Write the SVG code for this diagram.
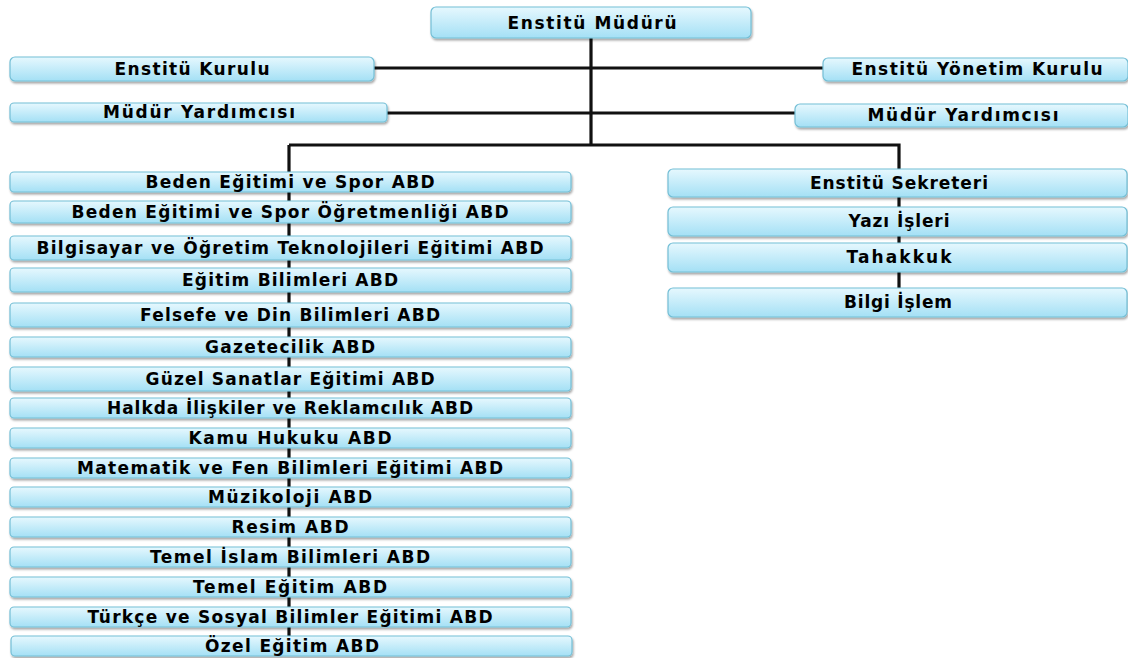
<svg xmlns="http://www.w3.org/2000/svg" width="1128" height="658" viewBox="0 0 1128 658">
<style>
.box{fill:url(#g);stroke:#74bfd6;stroke-width:1.2;filter:url(#sh)}
.t{font-family:"DejaVu Sans","Verdana",sans-serif;font-weight:bold;font-size:17px;fill:#000;text-anchor:middle}
.c{stroke:#111;stroke-width:3.2;fill:none}
</style>
<defs>
<linearGradient id="g" x1="0" y1="0" x2="0" y2="1">
<stop offset="0" stop-color="#e6f8fe"/>
<stop offset="1" stop-color="#a4e0f5"/>
</linearGradient>
<filter id="sh" x="-5%" y="-30%" width="110%" height="180%">
<feDropShadow dx="1" dy="2" stdDeviation="1" flood-color="#000" flood-opacity="0.35"/>
</filter>
</defs>
<rect width="1128" height="658" fill="#fff"/>
<g id="connectors">
<path class="c" d="M591 38V145"/>
<path class="c" d="M374 68H823"/>
<path class="c" d="M387 113H795"/>
<path class="c" d="M289 145H899V170"/>
<path class="c" d="M289 145V646"/>
<path class="c" d="M899 170V300"/>
</g>
<g id="n-mudur"><rect class="box" x="431" y="7" width="320" height="31" rx="5"/><text class="t" x="592" y="29" textLength="169">Enstitü Müdürü</text></g>
<g id="n-kurul"><rect class="box" x="10" y="57" width="364" height="24" rx="5"/><text class="t" x="192" y="75" textLength="155">Enstitü Kurulu</text></g>
<g id="n-yonetim"><rect class="box" x="823" y="58" width="305" height="23" rx="5"/><text class="t" x="977" y="75" textLength="251">Enstitü Yönetim Kurulu</text></g>
<g id="n-my1"><rect class="box" x="10" y="103" width="377" height="19" rx="4"/><text class="t" x="199" y="118" textLength="192">Müdür Yardımcısı</text></g>
<g id="n-my2"><rect class="box" x="795" y="104" width="333" height="23" rx="5"/><text class="t" x="963" y="121" textLength="191">Müdür Yardımcısı</text></g>
<g id="n-l1"><rect class="box" x="10" y="172" width="561" height="20" rx="4"/><text class="t" x="290" y="188" textLength="289">Beden Eğitimi ve Spor ABD</text></g>
<g id="n-l2"><rect class="box" x="10" y="201" width="561" height="22" rx="4"/><text class="t" x="290" y="218" textLength="437">Beden Eğitimi ve Spor Öğretmenliği ABD</text></g>
<g id="n-l3"><rect class="box" x="10" y="236" width="561" height="24" rx="4"/><text class="t" x="290" y="254" textLength="507">Bilgisayar ve Öğretim Teknolojileri Eğitimi ABD</text></g>
<g id="n-l4"><rect class="box" x="10" y="268" width="561" height="24" rx="4"/><text class="t" x="290" y="286" textLength="216">Eğitim Bilimleri ABD</text></g>
<g id="n-l5"><rect class="box" x="10" y="303" width="561" height="24" rx="4"/><text class="t" x="290" y="321" textLength="300">Felsefe ve Din Bilimleri ABD</text></g>
<g id="n-l6"><rect class="box" x="10" y="337" width="561" height="20" rx="4"/><text class="t" x="290" y="353" textLength="170">Gazetecilik ABD</text></g>
<g id="n-l7"><rect class="box" x="10" y="367" width="561" height="24" rx="4"/><text class="t" x="290" y="385" textLength="289">Güzel Sanatlar Eğitimi ABD</text></g>
<g id="n-l8"><rect class="box" x="10" y="398" width="561" height="20" rx="4"/><text class="t" x="290" y="414" textLength="366">Halkda İlişkiler ve Reklamcılık ABD</text></g>
<g id="n-l9"><rect class="box" x="10" y="428" width="561" height="20" rx="4"/><text class="t" x="290" y="444" textLength="203">Kamu Hukuku ABD</text></g>
<g id="n-l10"><rect class="box" x="10" y="458" width="561" height="20" rx="4"/><text class="t" x="290" y="474" textLength="426">Matematik ve Fen Bilimleri Eğitimi ABD</text></g>
<g id="n-l11"><rect class="box" x="10" y="487" width="561" height="20" rx="4"/><text class="t" x="290" y="503" textLength="164">Müzikoloji ABD</text></g>
<g id="n-l12"><rect class="box" x="10" y="517" width="561" height="20" rx="4"/><text class="t" x="290" y="533" textLength="117">Resim ABD</text></g>
<g id="n-l13"><rect class="box" x="10" y="547" width="561" height="20" rx="4"/><text class="t" x="290" y="563" textLength="280">Temel İslam Bilimleri ABD</text></g>
<g id="n-l14"><rect class="box" x="10" y="577" width="561" height="20" rx="4"/><text class="t" x="290" y="593" textLength="194">Temel Eğitim ABD</text></g>
<g id="n-l15"><rect class="box" x="10" y="607" width="561" height="20" rx="4"/><text class="t" x="290" y="623" textLength="405">Türkçe ve Sosyal Bilimler Eğitimi ABD</text></g>
<g id="n-l16"><rect class="box" x="11" y="636" width="561" height="20" rx="4"/><text class="t" x="292" y="652" textLength="174">Özel Eğitim ABD</text></g>
<g id="n-r1"><rect class="box" x="668" y="169" width="459" height="28" rx="5"/><text class="t" x="899" y="189" textLength="178">Enstitü Sekreteri</text></g>
<g id="n-r2"><rect class="box" x="668" y="207" width="459" height="29" rx="5"/><text class="t" x="899" y="227" textLength="101">Yazı İşleri</text></g>
<g id="n-r3"><rect class="box" x="668" y="243" width="459" height="29" rx="5"/><text class="t" x="899" y="263" textLength="105">Tahakkuk</text></g>
<g id="n-r4"><rect class="box" x="668" y="288" width="459" height="29" rx="5"/><text class="t" x="898" y="308" textLength="108">Bilgi İşlem</text></g>
</svg>
